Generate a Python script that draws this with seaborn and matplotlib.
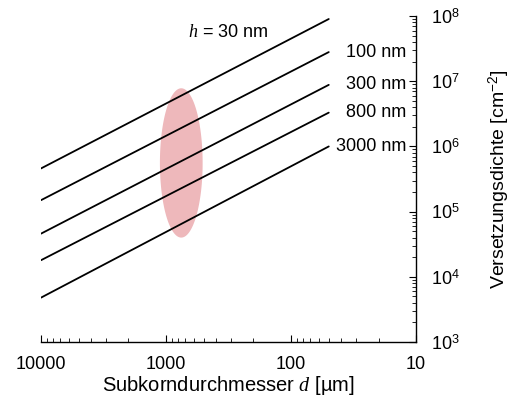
import numpy as np
import pandas as pd
import matplotlib
matplotlib.use("Agg")
import matplotlib.pyplot as plt
import seaborn as sns
from matplotlib.ticker import LogLocator, NullFormatter, FixedLocator, FixedFormatter

sns.set_style("white")
plt.rcParams["font.family"] = ["Liberation Sans", "DejaVu Sans"]
plt.rcParams["mathtext.fontset"] = "custom"
plt.rcParams["mathtext.rm"] = "Liberation Sans"
plt.rcParams["mathtext.it"] = "Liberation Serif:italic"
plt.rcParams["text.color"] = "black"

# Daten
d_werte = [10000, 50]                      # Subkorndurchmesser in µm
h_namen = ["30 nm", "100 nm", "300 nm", "800 nm", "3000 nm"]
rho_start = [4.6e5, 1.5e5, 4.6e4, 1.8e4, 4.8e3]   # bei d = 10000 µm
rho_ende = [9.0e7, 2.8e7, 8.8e6, 3.3e6, 1.0e6]     # bei d = 50 µm

# markierter Bereich (Ellipse)
bereich_d = [1120, 510]
bereich_rho = [4.0e4, 7.8e6]

x_ticks = [10000, 1000, 100, 10]
x_labels = ["10000", "1000", "100", "10"]
y_ticks = [1e3, 1e4, 1e5, 1e6, 1e7, 1e8]
y_labels = [r"10$^{%d}$" % i for i in range(3, 9)]

rows = []
for name, r0, r1 in zip(h_namen, rho_start, rho_ende):
    rows.append({"h": name, "d": d_werte[0], "rho": r0})
    rows.append({"h": name, "d": d_werte[1], "rho": r1})
df = pd.DataFrame(rows)

fig = plt.figure(figsize=(5.16, 4.01), dpi=100)
ax = fig.add_axes([0.0795, 0.147, 0.727, 0.813])

# Ellipse im log-Raum
lx = np.log10(bereich_d)
ly = np.log10(bereich_rho)
t = np.linspace(0, 2 * np.pi, 200)
ex = 10 ** (lx.mean() + (lx[0] - lx[1]) / 2 * np.cos(t))
ey = 10 ** (ly.mean() + (ly[1] - ly[0]) / 2 * np.sin(t))
ax.fill(ex, ey, color="#eaa6aa", lw=0, alpha=0.8, zorder=1)

sns.lineplot(data=df, x="d", y="rho", hue="h", palette=["black"] * 5,
             legend=False, lw=1.3, ax=ax, zorder=2)

ax.set_xscale("log")
ax.set_yscale("log")
ax.set_xlim(1e4, 10)
ax.set_ylim(1e3, 1e8)

for s in ["top", "left"]:
    ax.spines[s].set_visible(False)
for s in ["bottom", "right"]:
    ax.spines[s].set_color("black")
    ax.spines[s].set_linewidth(1.0)

ax.yaxis.tick_right()
ax.yaxis.set_label_position("right")
ax.xaxis.set_major_locator(FixedLocator(x_ticks))
ax.xaxis.set_major_formatter(FixedFormatter(x_labels))
ax.xaxis.set_minor_locator(LogLocator(base=10, subs=np.arange(2, 10)))
ax.xaxis.set_minor_formatter(NullFormatter())
ax.yaxis.set_major_locator(FixedLocator(y_ticks))
ax.yaxis.set_major_formatter(FixedFormatter(y_labels))
ax.yaxis.set_minor_locator(LogLocator(base=10, subs=np.arange(2, 10)))
ax.yaxis.set_minor_formatter(NullFormatter())

ax.tick_params(axis="x", which="both", bottom=True, top=False)
ax.tick_params(axis="y", which="both", right=True, left=False)
ax.tick_params(axis="both", which="both", direction="in", color="black",
               labelsize=13, labelcolor="black")
ax.tick_params(which="major", length=5, width=0.8)
ax.tick_params(which="minor", length=3, width=0.6)
ax.tick_params(axis="y", which="major", pad=11)
ax.tick_params(axis="x", which="major", pad=10)

ax.set_xlabel(r"Subkorndurchmesser $d$ [µm]", fontsize=14.5, color="black", labelpad=1)
ax.set_ylabel(r"Versetzungsdichte [cm$^{-2}$]", fontsize=14, color="black", labelpad=19)

# Beschriftungen der Linien
ax.text(320, 5.5e7, r"$h$ = 30 nm", fontsize=13, ha="center", va="center")
for name, r1 in zip(h_namen[1:], rho_ende[1:]):
    ax.text(12, r1, name, fontsize=13, ha="right", va="center")

plt.savefig("out.png", dpi=100)
plt.close()
